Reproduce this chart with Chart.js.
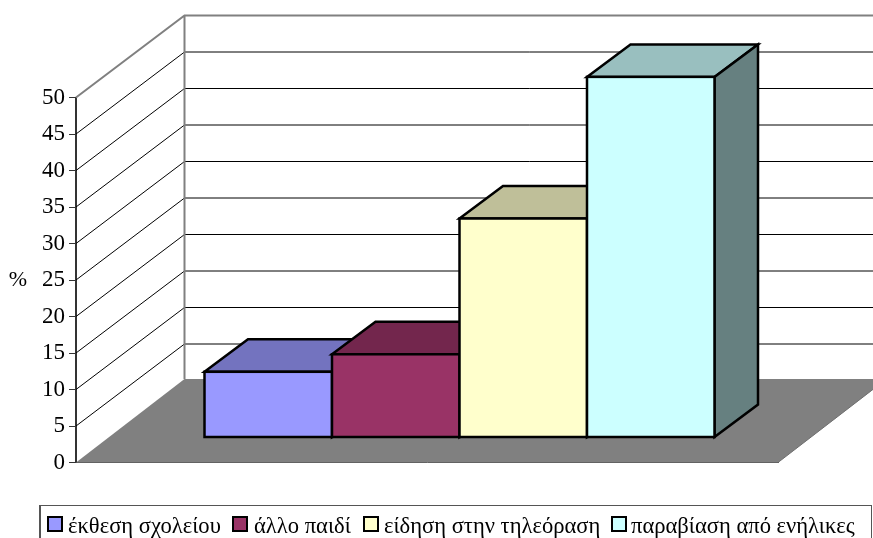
<!DOCTYPE html>
<html lang="el">
<head>
<meta charset="utf-8">
<title>Chart</title>
<script src="https://cdn.jsdelivr.net/npm/chart.js@4"></script>
<style>
  html, body { margin: 0; padding: 0; background: #fff; overflow: hidden; }
  #wrap { position: relative; width: 873px; height: 538px; overflow: hidden; }
  canvas { display: block; }
  #legend {
    position: absolute; left: 39px; top: 505px; width: 833px; height: 40px;
    border: 1px solid #555; border-left-width: 2px; box-sizing: border-box;
    font: 22.6px "Liberation Serif", serif; color: #000;
  }
  #legend span { position: absolute; top: 7px; white-space: nowrap; line-height: 26px; }
  #legend i {
    position: absolute; top: 10px; width: 12px; height: 12px;
    border: 2px solid #000; box-sizing: content-box;
  }
</style>
</head>
<body>
<div id="wrap">
  <canvas id="chart" width="873" height="538"></canvas>
  <div id="legend"></div>
</div>
<script>
const categories = ['έκθεση σχολείου', 'άλλο παιδί', 'είδηση στην τηλεόραση', 'παραβίαση από ενήλικες'];
const values = [9, 11.4, 30, 49.4];
const frontColors = ['#9999ff', '#993366', '#ffffcc', '#ccffff'];
const topColors = ['#7373bf', '#73264d', '#bfbf99', '#99bfbf'];
const sideColors = ['#4d4d80', '#4d1a33', '#808066', '#668080'];
const legendSwatchX = [6, 191, 322, 570];
const legendTextX = [27, 213, 343, 590];

// depth of the box: walls/floor, bars themselves, and how far bars sit from the front edge
const wallDepth = { x: 108.5, y: 82 };
const barDepth = { x: 43.5, y: 32.5 };
const barShift = { x: 32.5, y: -25 };
const barLine = 2.5;

function poly(ctx, pts) {
  ctx.beginPath();
  pts.forEach((p, i) => (i ? ctx.lineTo(p[0], p[1]) : ctx.moveTo(p[0], p[1])));
  ctx.closePath();
}

const walls3d = {
  id: 'walls3d',
  beforeDatasetsDraw(chart) {
    const { ctx, chartArea: a, scales: { y } } = chart;
    const d = wallDepth;
    ctx.save();

    // floor
    const y0 = y.getPixelForValue(0);
    ctx.fillStyle = '#808080';
    ctx.strokeStyle = '#6e6e6e';
    ctx.lineWidth = 1;
    poly(ctx, [[a.left, y0], [a.right, y0], [a.right + d.x, y0 - d.y - 1.5], [a.left + d.x, y0 - d.y - 1.5]]);
    ctx.fill();
    ctx.beginPath();
    ctx.moveTo(a.right, y0);
    ctx.lineTo(a.right + d.x, y0 - d.y - 1.5);
    ctx.stroke();

    // grid lines, side wall then back wall
    ctx.strokeStyle = '#000';
    y.ticks.forEach((t) => {
      if (t.value === 0 || t.value === 50) return;
      const py = y.getPixelForValue(t.value);
      ctx.beginPath();
      ctx.moveTo(a.left, py);
      ctx.lineTo(a.left + d.x, py - d.y);
      ctx.lineTo(a.right + d.x, py - d.y);
      ctx.stroke();
    });

    // wall outline
    ctx.strokeStyle = '#808080';
    ctx.lineWidth = 2;
    const top = y.getPixelForValue(50);
    ctx.beginPath();
    ctx.moveTo(a.left, top);
    ctx.lineTo(a.left + d.x, top - d.y);
    ctx.lineTo(a.right + d.x, top - d.y);
    ctx.moveTo(a.left + d.x, top - d.y);
    ctx.lineTo(a.left + d.x, y0 - d.y - 1.5);
    ctx.stroke();

    // the unit label stays upright, unlike a regular axis title
    ctx.fillStyle = '#000';
    ctx.font = '22px "Liberation Serif", serif';
    ctx.textAlign = 'center';
    ctx.textBaseline = 'middle';
    ctx.fillText('%', 18, y.getPixelForValue(25));
    ctx.restore();
  },
};

// Chart.js paints datasets last to first, but here each box has to cover the
// side of the one before it, so the painting is done left to right instead.
const bars3d = {
  id: 'bars3d',
  beforeDatasetDraw() {
    return false;
  },
  afterDatasetsDraw(chart) {
    const { ctx } = chart;
    const dx = barDepth.x;
    const dy = barDepth.y;
    categories.forEach((name, i) => {
      const meta = chart.getDatasetMeta(i);
      const b = meta.data[0];
      const left = b.x - b.width / 2;
      const right = b.x + b.width / 2;

      ctx.save();
      ctx.translate(barShift.x, barShift.y);
      ctx.strokeStyle = '#000';
      ctx.lineWidth = barLine;
      ctx.lineJoin = 'miter';

      poly(ctx, [[left, b.y], [left + dx, b.y - dy], [right + dx, b.y - dy], [right, b.y]]);
      ctx.fillStyle = topColors[i];
      ctx.fill();
      ctx.stroke();

      poly(ctx, [[right, b.y], [right + dx, b.y - dy], [right + dx, b.base - dy], [right, b.base]]);
      ctx.fillStyle = sideColors[i];
      ctx.fill();
      ctx.stroke();

      meta.controller.draw();
      ctx.strokeStyle = '#000';
      ctx.lineWidth = barLine;
      ctx.strokeRect(left, b.y, b.width, b.base - b.y);
      ctx.restore();
    });
  },
};

new Chart(document.getElementById('chart'), {
  type: 'bar',
  data: {
    labels: [''],
    datasets: categories.map((name, i) => ({
      label: name,
      data: [values[i]],
      backgroundColor: frontColors[i],
      borderWidth: 0,
      inflateAmount: 0,
      categoryPercentage: 0.7265,
      barPercentage: 1,
    })),
  },
  options: {
    responsive: false,
    animation: false,
    layout: { padding: { top: 97.5, right: 95, bottom: 75.5, left: 0 } },
    plugins: { legend: { display: false }, tooltip: { enabled: false } },
    scales: {
      x: {
        grid: { display: false },
        ticks: { display: false },
        border: { color: '#444', width: 1 },
        afterFit: (s) => { s.height = 0; },
      },
      y: {
        min: 0,
        max: 50,
        afterFit: (s) => { s.width = 76; },
        ticks: {
          stepSize: 5,
          color: '#000',
          padding: 4,
          font: { family: '"Liberation Serif", serif', size: 23 },
        },
        grid: { drawOnChartArea: false, tickLength: 7, color: '#333' },
        border: { color: '#333', width: 2 },
      },
    },
  },
  plugins: [walls3d, bars3d],
});

// legend sits outside the canvas, clipped by the bottom of the page
const legendEl = document.getElementById('legend');
categories.forEach((name, i) => {
  const swatch = document.createElement('i');
  swatch.style.left = legendSwatchX[i] + 'px';
  swatch.style.background = frontColors[i];
  legendEl.appendChild(swatch);
  const text = document.createElement('span');
  text.style.left = legendTextX[i] + 'px';
  text.textContent = name;
  legendEl.appendChild(text);
});
</script>
</body>
</html>
